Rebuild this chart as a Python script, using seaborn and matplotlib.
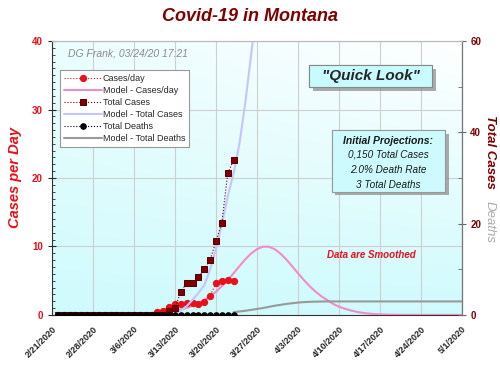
import numpy as np
import pandas as pd
import matplotlib
matplotlib.use("Agg")
import matplotlib.pyplot as plt
import matplotlib.dates as mdates
import matplotlib.patheffects as pe
from matplotlib.patches import Rectangle
from matplotlib.ticker import MultipleLocator
import seaborn as sns

sns.set_style("white")
plt.rcParams['font.family'] = ['Liberation Sans', 'DejaVu Sans']

# observed data, one value per day starting 2/22/2020
data_start = '2020-02-22'
cases_per_day = [0, 0, 0, 0, 0, 0, 0, 0, 0, 0, 0, 0, 0, 0, 0, 0, 0,
                 0.35, 0.5, 1.1, 1.6, 1.6, 1.7, 1.8, 1.6, 1.9, 2.8, 4.6, 4.9, 5.1, 4.9]
total_cases = [0, 0, 0, 0, 0, 0, 0, 0, 0, 0, 0, 0, 0, 0, 0, 0, 0, 0, 0,
               0.8, 1.5, 5.1, 7.0, 7.0, 8.2, 10.0, 12.1, 16.1, 20.2, 31.0, 33.9]
total_deaths = [0, 0, 0, 0, 0, 0, 0, 0, 0, 0, 0, 0, 0, 0, 0, 0, 0, 0, 0, 0,
                0, 0, 0, 0, 0, 0, 0, 0, 0, 0, 0]

# model curves
model_cases_start = '2020-03-12'
model_cases_per_day = [0.48, 0.62, 0.80, 1.04, 1.32, 1.70, 2.17, 2.71, 3.40, 4.20,
                       5.08, 6.08, 7.12, 8.12, 8.97, 9.61, 9.96, 9.96, 9.61, 8.96,
                       8.11, 7.11, 6.08, 5.09, 4.19, 3.39, 2.71, 2.16, 1.60, 1.20,
                       0.90, 0.65, 0.45, 0.30, 0.20, 0.12, 0.08, 0.05, 0.03, 0.02,
                       0.01, 0.01, 0.01, 0.0, 0.0, 0.0, 0.0, 0.0, 0.0, 0.0, 0.0]
model_total_start = '2020-03-13'
model_total_cases = [0.4, 1.0, 1.9, 3.3, 4.8, 6.5, 10.0, 14.5, 19.8, 26.0,
                     31.0, 37.5, 46.5, 57.0, 68.0, 79.0]
model_deaths_start = '2020-03-23'
model_total_deaths = [0.6, 0.75, 0.9, 1.1, 1.3, 1.5, 1.75, 2.0, 2.2, 2.4,
                      2.55, 2.7, 2.8, 2.86, 2.9, 2.93, 2.95, 2.95, 2.95, 2.95,
                      2.95, 2.95, 2.95, 2.95, 2.95, 2.95, 2.95, 2.95, 2.95, 2.95,
                      2.95, 2.95, 2.95, 2.95, 2.95, 2.95, 2.95, 2.95, 2.95, 2.95]

x_ticks = pd.date_range('2020-02-21', '2020-05-01', freq='7D')
proj_lines = ["0,150 Total Cases", "2.0% Death Rate", "3 Total Deaths"]

RED = '#e8101a'
DARKRED = '#800000'
PINK = '#f08cc8'
LAVENDER = '#c4c4ff'
GREY = '#999999'

days = pd.date_range(data_start, periods=len(cases_per_day))
df = pd.DataFrame({'date': days, 'cases': cases_per_day,
                   'total': total_cases, 'deaths': total_deaths})
m_cases = pd.DataFrame({'date': pd.date_range(model_cases_start, periods=len(model_cases_per_day)),
                        'v': model_cases_per_day})
m_total = pd.DataFrame({'date': pd.date_range(model_total_start, periods=len(model_total_cases)),
                        'v': model_total_cases})
m_deaths = pd.DataFrame({'date': pd.date_range(model_deaths_start, periods=len(model_total_deaths)),
                         'v': model_total_deaths})

fig = plt.figure(figsize=(5, 3.67), dpi=100)
ax = fig.add_axes([0.104, 0.142, 0.82, 0.746])
ax2 = ax.twinx()

# gradient background
yy, xx = np.mgrid[0:1:200j, 0:1:200j]
f = np.clip(yy * 0.85 + (1 - xx) * 0.35 * (1 - yy), 0, 1)
cyan = np.array([0.78, 0.98, 0.99])
img = (1 - f[..., None]) + f[..., None] * cyan
ax.imshow(img, extent=[0, 1, 0, 1], transform=ax.transAxes, aspect='auto', zorder=0)

# left axis: cases per day
sns.lineplot(data=m_cases, x='date', y='v', ax=ax, color=PINK, lw=1.5,
             label='Model - Cases/day', legend=False, zorder=3)
sns.lineplot(data=df, x='date', y='cases', ax=ax, color=RED, lw=0.8, linestyle=':',
             marker='o', markersize=4.5, markeredgecolor=RED,
             label='Cases/day', legend=False, zorder=4)

# right axis: totals
sns.lineplot(data=m_total, x='date', y='v', ax=ax2, color=LAVENDER, lw=1.5,
             label='Model - Total Cases', legend=False, zorder=2)
sns.lineplot(data=m_deaths, x='date', y='v', ax=ax2, color=GREY, lw=1.5,
             label='Model - Total Deaths', legend=False, zorder=2)
sns.lineplot(data=df, x='date', y='total', ax=ax2, color=DARKRED, lw=0.8, linestyle=':',
             marker='s', markersize=4.8, markeredgecolor='#5a0000',
             label='Total Cases', legend=False, zorder=3)
sns.lineplot(data=df, x='date', y='deaths', ax=ax2, color='black', lw=0.8, linestyle=':',
             marker='o', markersize=4, markeredgecolor='black',
             label='Total Deaths', legend=False, zorder=4)

ax.set_xlim(pd.Timestamp('2020-02-21'), pd.Timestamp('2020-05-01'))
ax.set_ylim(0, 40)
ax2.set_ylim(0, 60)
ax.set_xlabel('')
ax.set_ylabel('')
ax2.set_ylabel('')

ax.set_xticks(x_ticks)
ax.set_xticklabels([f"{d.month}/{d.day}/{d.year}" for d in x_ticks],
                   rotation=45, ha='right', rotation_mode='anchor',
                   fontsize=6.5, fontweight='bold')
ax.xaxis.set_minor_locator(mdates.DayLocator())
ax.yaxis.set_major_locator(MultipleLocator(10))
ax.yaxis.set_minor_locator(MultipleLocator(1))
ax2.yaxis.set_major_locator(MultipleLocator(20))
ax2.yaxis.set_minor_locator(MultipleLocator(10))

ax.tick_params(axis='x', which='major', direction='inout', length=6, width=0.8, pad=4)
ax.tick_params(axis='x', which='minor', direction='in', length=2.5, width=0.6)
ax.tick_params(axis='y', which='major', direction='inout', length=6, width=0.8,
               labelsize=7, labelcolor=RED)
ax.tick_params(axis='y', which='minor', direction='in', length=2.5, width=0.6)
ax2.tick_params(axis='y', which='major', direction='inout', length=6, width=0.8,
                labelsize=7, labelcolor=DARKRED, color='#666666', pad=3)
ax2.tick_params(axis='y', which='minor', direction='in', length=3, width=0.6, color='#666666')
for lbl in ax.get_yticklabels() + ax2.get_yticklabels():
    lbl.set_fontweight('bold')

ax.grid(True, which='major', color='#cfcfcf', lw=0.8)
ax2.grid(False)
for sp in ['left', 'bottom']:
    ax.spines[sp].set_color('#333333')
ax2.spines['right'].set_color('#777777')
ax2.spines['top'].set_color('#bbbbbb')
ax2.spines['left'].set_visible(False)
ax2.spines['bottom'].set_visible(False)
ax.spines['top'].set_color('#bbbbbb')

# legend
h1, l1 = ax.get_legend_handles_labels()
h2, l2 = ax2.get_legend_handles_labels()
hd = dict(zip(l1 + l2, h1 + h2))
order = ['Cases/day', 'Model - Cases/day', 'Total Cases', 'Model - Total Cases',
         'Total Deaths', 'Model - Total Deaths']
leg = ax2.legend([hd[k] for k in order], order, loc='upper left',
                 bbox_to_anchor=(0.008, 0.91), fontsize=6.5, handlelength=4.2,
                 handletextpad=0.1, labelspacing=0.32, borderpad=0.45,
                 fancybox=False, framealpha=1, edgecolor='#999999')
leg.get_frame().set_linewidth(0.8)
leg.set_zorder(10)

# annotations
ax2.text(0.039, 0.956, "DG Frank, 03/24/20 17:21", transform=ax.transAxes,
         fontsize=7.5, style='italic', color='#8c8c8c', va='center', zorder=10)

shadow = [pe.withSimplePatchShadow(offset=(2.5, -2.5), shadow_rgbFace='#888888', alpha=0.7),
          pe.Normal()]
r1 = Rectangle((0.627, 0.832), 0.30, 0.08, transform=ax.transAxes, facecolor='#c8fbfd',
               edgecolor='#888888', lw=0.8, zorder=9, path_effects=shadow)
ax2.add_patch(r1)
ax2.text(0.777, 0.872, '"Quick Look"', transform=ax.transAxes, fontsize=11,
         fontweight='bold', style='italic', ha='center', va='center', zorder=10)

r2 = Rectangle((0.682, 0.45), 0.277, 0.225, transform=ax.transAxes, facecolor='#cdfbfd',
               edgecolor='#999999', lw=0.8, zorder=9, path_effects=shadow)
ax2.add_patch(r2)
ax2.text(0.82, 0.635, "Initial Projections:", transform=ax.transAxes, fontsize=7.5,
         fontweight='bold', style='italic', ha='center', va='center', color='#1a1a1a', zorder=10)
for i, line in enumerate(proj_lines):
    ax2.text(0.82, 0.584 - i * 0.055, line, transform=ax.transAxes, fontsize=7.2,
             style='italic', ha='center', va='center', color='#1a1a1a', zorder=10)

ax2.text(0.78, 0.219, "Data are Smoothed", transform=ax.transAxes, fontsize=7,
         fontweight='bold', style='italic', ha='center', va='center', color=RED, zorder=10)

fig.text(0.5, 0.956, "Covid-19 in Montana", fontsize=13, fontweight='bold',
         style='italic', color=DARKRED, ha='center', va='center')
fig.text(0.03, 0.516, "Cases per Day", fontsize=10.5, fontweight='bold', style='italic',
         color=RED, rotation=90, ha='center', va='center')
fig.text(0.98, 0.585, "Total Cases", fontsize=9.5, fontweight='bold', style='italic',
         color=DARKRED, rotation=270, ha='center', va='center')
fig.text(0.98, 0.395, "Deaths", fontsize=9.5, style='italic',
         color='#aaaaaa', rotation=270, ha='center', va='center')

fig.savefig("out.png", dpi=100)
